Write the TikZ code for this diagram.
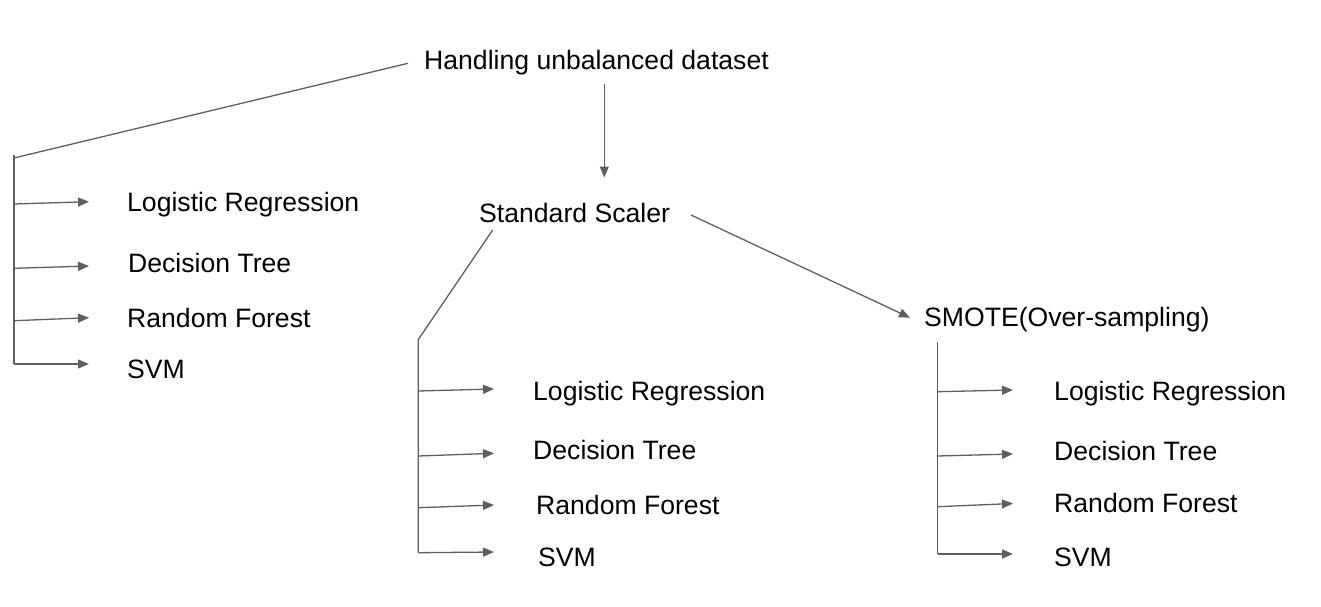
\documentclass[tikz,border=0pt]{standalone}
\usepackage{fontspec}
\setmainfont{Liberation Sans}
\usepackage{tikz}
\usetikzlibrary{arrows.meta}
\definecolor{linegray}{HTML}{5F5F5F}

\begin{document}
\begin{tikzpicture}[x=1pt,y=-1pt,
    lbl/.style={anchor=base west, inner sep=0pt, font=\fontsize{26.6}{32}\selectfont},
    conn/.style={draw=linegray, line width=1.3pt},
    arr/.style={conn, -{Triangle[length=11pt,width=9pt]}}]
    \useasboundingbox (0,0) rectangle (1321,607);
    % top levels
    \node[lbl] (hud) at (424,70) {Handling unbalanced dataset};
    \node[lbl] (ss) at (479,222.7) {Standard Scaler};
    \node[lbl] (smote) at (924,326) {SMOTE(Over-sampling)};
    \coordinate (hudL) at (408,63.3);
    \coordinate (hudB) at (604.3,84);
    \coordinate (ssT) at (604.3,177.5);
    \coordinate (ssL) at (492.7,230);
    \coordinate (ssR) at (691,215);
    \coordinate (smoteL) at (910,317.7);
    \draw[arr] (hudB) -- (ssT);
    \draw[arr] (ssR) -- (smoteL);
    % trunks
    \coordinate (topA) at (14,155);     \coordinate (botA) at (14,364);
    \coordinate (kneeA) at (14,158);
    \coordinate (topB) at (418.3,339.5); \coordinate (botB) at (418.3,552.7);
    \coordinate (topC) at (937.5,341.7); \coordinate (botC) at (937.5,554);
    \draw[conn] (hudL) -- (kneeA);
    \draw[conn] (topA) -- (botA);
    \draw[conn] (ssL) -- (topB) -- (botB);
    \draw[conn] (topC) -- (botC);
    % leaves, no tops
    \foreach \n/\x/\y/\ya/\yb/\t in {lrA/127/211/204/201.7/Logistic Regression,
        dtA/128/272.7/268.3/266/Decision Tree,
        rfA/127/327/320.7/317.7/Random Forest,
        svmA/127/378/364/364/SVM} {
        \node[lbl] (\n) at (\x,\y) {\t};
        \coordinate (\n-out) at (14,\ya);
        \coordinate (\n-in) at (89,\yb);
        \draw[arr] (\n-out) -- (\n-in);
    }
    \foreach \n/\x/\y/\ya/\yb/\t in {lrB/533/400.7/391/389/Logistic Regression,
        dtB/533/459/456/453.3/Decision Tree,
        rfB/536/514/507.7/505/Random Forest,
        svmB/538/566.7/552.7/552/SVM} {
        \node[lbl] (\n) at (\x,\y) {\t};
        \coordinate (\n-out) at (418.3,\ya);
        \coordinate (\n-in) at (494,\yb);
        \draw[arr] (\n-out) -- (\n-in);
    }
    \foreach \n/\x/\y/\ya/\yb/\t in {lrC/1054/400.7/391.7/390/Logistic Regression,
        dtC/1054/460/456/454/Decision Tree,
        rfC/1054/512.7/506.7/503.5/Random Forest,
        svmC/1054/566/554/554/SVM} {
        \node[lbl] (\n) at (\x,\y) {\t};
        \coordinate (\n-out) at (937.5,\ya);
        \coordinate (\n-in) at (1013,\yb);
        \draw[arr] (\n-out) -- (\n-in);
    }
\end{tikzpicture}
\end{document}
